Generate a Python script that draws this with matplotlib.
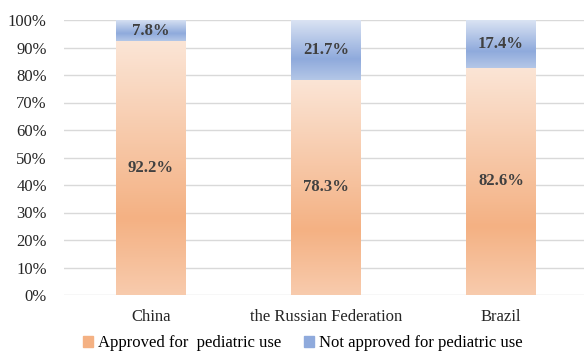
import numpy as np
import matplotlib.pyplot as plt
from matplotlib.colors import LinearSegmentedColormap

countries = ["China", "the Russian Federation", "Brazil"]
approved = [92.2, 78.3, 82.6]
not_approved = [7.8, 21.7, 17.4]
series_names = ["Approved for  pediatric use", "Not approved for pediatric use"]

plt.rcParams['font.family'] = ['Liberation Serif', 'DejaVu Serif']

# gradient fills, top -> bottom
orange = LinearSegmentedColormap.from_list(
    "orange", [(0, "#fbe5d6"), (0.7, "#f4b183"), (1, "#f8cbad")])
blue = LinearSegmentedColormap.from_list(
    "blue", [(0, "#dae3f3"), (0.65, "#8faadc"), (1, "#b4c7e7")])

fig = plt.figure(figsize=(5.84, 3.55), dpi=100)
ax = fig.add_axes([63.5 / 584, 1 - 295 / 355, 525 / 584, 275 / 355])

width = 0.4
grad = np.linspace(0, 1, 256).reshape(-1, 1)
x = np.arange(len(countries))
for i in x:
    segs = [(0, approved[i], orange), (approved[i], approved[i] + not_approved[i], blue)]
    for lo, hi, cmap in segs:
        ax.imshow(grad, cmap=cmap, aspect='auto', interpolation='bilinear',
                  origin='upper', extent=(i - width / 2, i + width / 2, lo, hi), zorder=2)
    ax.text(i, approved[i] / 2, f"{approved[i]}%", ha='center', va='center',
            fontsize=12, fontweight='bold', color='#404040', zorder=3)
    ax.text(i, approved[i] + not_approved[i] / 2, f"{not_approved[i]}%",
            ha='center', va='center', fontsize=12, fontweight='bold',
            color='#404040', zorder=3)

ax.set_xlim(-0.5, 2.5)
ax.set_ylim(0, 100)
ax.set_yticks(np.arange(0, 101, 10))
ax.set_yticklabels([f"{v}%" for v in range(0, 101, 10)])
ax.set_xticks(x)
ax.set_xticklabels(countries)
ax.tick_params(length=0, labelsize=12, colors='#262626')
ax.tick_params(axis='x', pad=10)
ax.tick_params(axis='y', pad=12)
ax.yaxis.grid(True, color='#d9d9d9', linewidth=1)
ax.set_axisbelow(True)
for s in ax.spines.values():
    s.set_visible(False)

handles = [plt.Rectangle((0, 0), 1, 1, color="#f4b183"),
           plt.Rectangle((0, 0), 1, 1, color="#8faadc")]
fig.legend(handles, series_names, loc='lower left', bbox_to_anchor=(68 / 584, -0.032),
           ncol=2, frameon=False, fontsize=12, handlelength=0.6, handleheight=0.6,
           handletextpad=0.3, columnspacing=1.35, labelcolor='#000000')

fig.savefig("out.png", dpi=100)
